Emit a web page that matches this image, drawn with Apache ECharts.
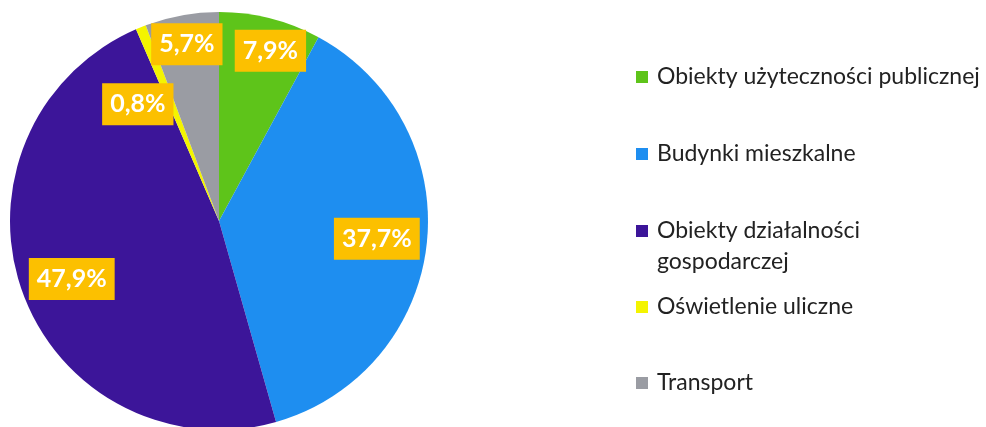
<!DOCTYPE html>
<html>
<head>
<meta charset="utf-8">
<script src="https://cdn.jsdelivr.net/npm/echarts@6/dist/echarts.min.js"></script>
<style>
    html, body { margin: 0; padding: 0; background: #ffffff; }
    #chart_energia { width: 986px; height: 427px; }
</style>
</head>
<body>
<div id="chart_energia"></div>
<script>
const categorias = [
    'Obiekty użyteczności publicznej',
    'Budynki mieszkalne',
    'Obiekty działalności\ngospodarczej',
    'Oświetlenie uliczne',
    'Transport'
];
const valores = [7.9, 37.7, 47.9, 0.8, 5.7];

const palette = ['#5ec41a', '#1e8ef0', '#3c1599', '#f4f400', '#9a9ca3'];

/* desplazamiento de etiquetas desde la posicion 'inside' */
const labelShift = [[25, -66], [51, 6], [-46, 22], [-41, -17], [-13, -71]];
/* posicion vertical de cada entrada de leyenda */
const legendTops = [61.5, 138.5, 215.5, 291.5, 367.5];

window.renderChartEnergia = function () {
    const div = document.getElementById('chart_energia');
    if (!div) return;

    const chart = echarts.init(div);

    const chartData = categorias.map((name, index) => ({
        name,
        value: valores[index]
    }));

    // una leyenda por entrada para controlar el espaciado
    const legends = categorias.map((name, index) => {
        const multiLine = name.indexOf('\n') >= 0;
        return {
            orient: 'vertical',
            left: 636,
            top: legendTops[index],
            padding: 0,
            itemWidth: 12,
            itemHeight: multiLine ? 43 : 12,
            // icono alineado con la primera linea
            icon: multiLine ? 'path://M0,0h12v12h-12z M0,43h0.01v-0.01z' : 'rect',
            selectedMode: false,
            data: [name],
            textStyle: {
                fontFamily: 'Lato',
                fontSize: 23,
                lineHeight: 31,
                color: '#222222',
                padding: [0, 0, 0, 4]
            }
        };
    });

    const option = {
        animation: false,
        color: palette,
        legend: legends,
        series: [{
            type: 'pie',
            center: [219, 221],
            radius: 209,
            startAngle: 90,
            clockwise: true,
            avoidLabelOverlap: false,
            itemStyle: { borderWidth: 0 },
            label: {
                show: true,
                position: 'inside',
                formatter: (p) => p.value.toFixed(1).replace('.', ',') + '%',
                fontFamily: 'Lato',
                fontWeight: 'bold',
                fontSize: 25,
                lineHeight: 30,
                color: '#ffffff',
                backgroundColor: '#fcc000',
                padding: [6, 8, 6, 8]
            },
            labelLine: { show: false },
            labelLayout: (params) => ({
                dx: labelShift[params.dataIndex][0],
                dy: labelShift[params.dataIndex][1]
            }),
            emphasis: { disabled: true },
            data: chartData
        }]
    };

    chart.setOption(option);
};

window.renderChartEnergia();
</script>
</body>
</html>
